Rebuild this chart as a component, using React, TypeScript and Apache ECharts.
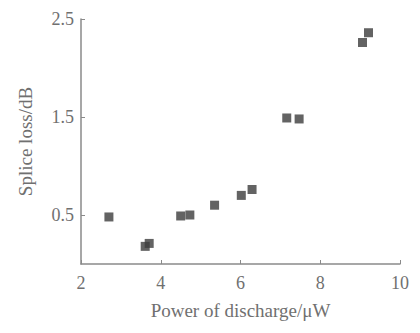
import React, { useEffect, useRef } from "react";
import * as echarts from "echarts";

const powerValues = [2.7, 3.61, 3.71, 4.5, 4.73, 5.35, 6.02, 6.29, 7.16, 7.47, 9.06, 9.21];
const lossValues = [0.48, 0.18, 0.21, 0.49, 0.5, 0.6, 0.7, 0.76, 1.49, 1.48, 2.26, 2.36];
const yTickValues = [0.5, 1.5, 2.5];
const xTickValues = [2, 4, 6, 8, 10];

export default function App() {
  const ref = useRef<HTMLDivElement>(null);
  useEffect(() => {
    if (!ref.current) return;
    const chart = echarts.init(ref.current, null, { renderer: "svg" });
    const font = "Liberation Serif";
    const axisColor = "#8a8a8a";
    const labelColor = "#707070";
    chart.setOption({
      animation: false,
      backgroundColor: "#ffffff",
      grid: { left: 62, right: 2, top: 11, bottom: 45 },
      xAxis: {
        type: "value",
        min: 2,
        max: 10,
        interval: 2,
        name: "Power of discharge/\u03bcW",
        nameLocation: "middle",
        nameGap: 37,
        nameTextStyle: { fontFamily: font, fontSize: 19, color: labelColor },
        axisLine: { show: true, lineStyle: { color: axisColor, width: 1.5 } },
        axisTick: { show: true, inside: true, length: 4, lineStyle: { color: axisColor }, customValues: xTickValues },
        axisLabel: {
          fontFamily: font,
          fontSize: 18,
          color: labelColor,
          margin: 10,
          customValues: xTickValues,
        },
        splitLine: { show: false },
      },
      yAxis: {
        type: "value",
        min: 0,
        max: 2.5,
        interval: 0.5,
        name: "Splice loss/dB",
        nameLocation: "middle",
        nameGap: 46,
        nameTextStyle: { fontFamily: font, fontSize: 19, color: labelColor },
        axisLine: { show: true, lineStyle: { color: axisColor, width: 1.5 } },
        axisTick: { show: true, inside: true, length: 4, lineStyle: { color: axisColor }, customValues: yTickValues },
        axisLabel: {
          fontFamily: font,
          fontSize: 18,
          color: labelColor,
          margin: 7,
          customValues: yTickValues,
        },
        splitLine: { show: false },
      },
      series: [
        {
          type: "scatter",
          symbol: "rect",
          symbolSize: 9,
          itemStyle: { color: "#3c3c3c" },
          data: powerValues.map((x, i) => [x, lossValues[i]]),
        },
      ],
    });
    return () => chart.dispose();
  }, []);
  return <div ref={ref} style={{ width: 404, height: 317 }} />;
}
